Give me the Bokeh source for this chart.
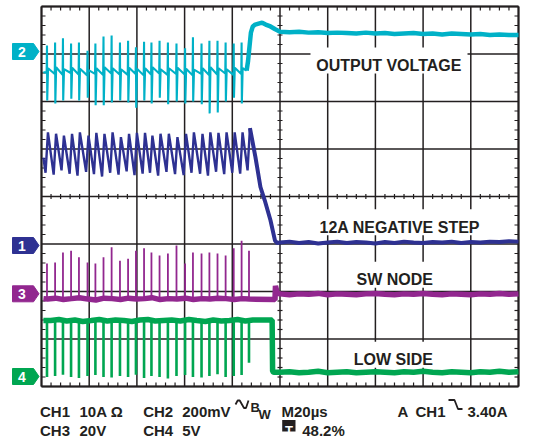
from bokeh.plotting import figure
from bokeh.models import Range1d
from bokeh.embed import file_html
from bokeh.resources import INLINE
from bokeh.core.properties import value

# ---------------- data (time in µs across the 10-div screen, 20 µs/div; amplitude in screen divisions) -------------
sw_t = [2.3, 5.7, 9.0, 12.4, 15.7, 19.3, 22.6, 26.0, 29.4, 32.9, 36.3, 39.6, 43.0,
        46.1, 49.5, 53.0, 56.6, 60.2, 63.5, 67.1, 70.4, 73.8, 77.2, 80.6, 83.9, 87.0]

# CH2 output voltage (cyan): spikes at each switching edge, ripple between them
ch2_top = [7.18, 7.24, 7.33, 7.22, 7.24, 7.07, 7.22, 7.37, 7.39, 7.24, 7.28, 7.14, 7.26,
           7.24, 7.28, 7.24, 7.22, 7.12, 7.35, 7.22, 7.28, 7.28, 7.24, 7.22, 7.24]
ch2_bot = [6.02, 5.96, 6.02, 6.06, 6.02, 6.08, 5.92, 5.92, 5.98, 6.02, 5.98, 5.87, 6.02,
           5.96, 6.08, 5.94, 6.00, 5.96, 6.00, 5.94, 5.75, 5.77, 6.00, 6.08, 5.96]
ch2_hi = [6.70, 6.72, 6.68, 6.71, 6.69, 6.66, 6.70, 6.72, 6.70, 6.68, 6.71, 6.69, 6.70,
          6.72, 6.68, 6.70, 6.71, 6.69, 6.67, 6.70, 6.72, 6.70, 6.68, 6.71, 6.70]
ch2_lo = [6.58, 6.56, 6.60, 6.57, 6.55, 6.58, 6.56, 6.59, 6.57, 6.56, 6.58, 6.55, 6.57,
          6.59, 6.56, 6.58, 6.57, 6.55, 6.58, 6.56, 6.57, 6.59, 6.56, 6.58, 6.60]
ch2_step_t = [86.0, 86.6, 87.2, 87.8, 88.6, 89.6, 91.0, 92.5, 94.0, 96.0, 98.0]
ch2_step_v = [6.65, 6.85, 7.15, 7.45, 7.58, 7.62, 7.64, 7.66, 7.62, 7.58, 7.52]

# CH1 inductor current (navy): sawtooth peaks / troughs, then the negative step
ch1_hi = [5.35, 5.32, 5.28, 5.32, 5.35, 5.28, 5.34, 5.32, 5.35, 5.25, 5.32, 5.34, 5.34,
          5.28, 5.32, 5.32, 5.25, 5.32, 5.35, 5.32, 5.35, 5.34, 5.35, 5.35, 5.35, 5.44]
ch1_lo = [4.50, 4.46, 4.55, 4.48, 4.44, 4.52, 4.47, 4.42, 4.50, 4.46, 4.53, 4.45, 4.48,
          4.50, 4.44, 4.52, 4.47, 4.45, 4.50, 4.48, 4.44, 4.52, 4.47, 4.50, 4.48, 4.55]
ch1_fall_t = [89.7, 91.8, 93.6, 96.0, 97.9, 98.8]
ch1_fall_v = [4.83, 4.20, 3.92, 3.50, 3.07, 3.02]

# CH3 switch node (purple)
ch3_base = [1.84, 1.86, 1.83, 1.85, 1.87, 1.84, 1.82, 1.86, 1.85, 1.83, 1.86, 1.84, 1.85,
            1.87, 1.83, 1.85, 1.84, 1.86, 1.83, 1.85, 1.84, 1.86, 1.85, 1.83, 1.85, 1.84]
ch3_top = [2.59, 2.61, 2.82, 2.86, 2.72, 2.61, 2.59, 2.72, 2.93, 2.65, 2.69, 2.86, 2.91,
           2.82, 2.76, 2.80, 2.97, 2.59, 2.82, 2.80, 2.82, 2.80, 2.76, 2.91, 3.07, 2.86]
ch3_step_t = [97.9, 98.1, 98.8]
ch3_step_v = [1.83, 2.12, 1.97]

# CH4 low-side gate (green)
ch4_high = [1.39, 1.41, 1.38, 1.40, 1.37, 1.39, 1.41, 1.38, 1.40, 1.39, 1.37, 1.40, 1.41,
            1.38, 1.39, 1.40, 1.38, 1.41, 1.39, 1.37, 1.40, 1.38, 1.39, 1.41, 1.38, 1.40]
ch4_bot = [0.20, 0.22, 0.25, 0.20, 0.18, 0.22, 0.24, 0.20, 0.19, 0.22, 0.20, 0.25, 0.18,
           0.22, 0.20, 0.17, 0.22, 0.24, 0.20, 0.19, 0.22, 0.26, 0.20, 0.22, 0.24, 0.50]
ch4_step_t = [96.7, 96.9, 97.4]
ch4_step_v = [1.40, 0.32, 0.30]

# settled traces after the step
flat_t = list(range(100, 201, 4))
ch1_flat = [3.03, 3.05, 3.02, 3.04, 3.01, 3.03, 3.05, 3.02, 3.04, 3.03, 3.01, 3.04, 3.02,
            3.05, 3.03, 3.02, 3.04, 3.03, 3.05, 3.02, 3.04, 3.03, 3.05, 3.04, 3.06, 3.05]
ch2_flat = [7.47, 7.46, 7.47, 7.45, 7.46, 7.44, 7.45, 7.44, 7.43, 7.45, 7.43, 7.44, 7.42,
            7.43, 7.44, 7.42, 7.43, 7.41, 7.43, 7.42, 7.41, 7.42, 7.40, 7.41, 7.40, 7.40]
ch3_flat = [1.95, 1.93, 1.95, 1.94, 1.96, 1.93, 1.95, 1.94, 1.93, 1.95, 1.96, 1.94, 1.93,
            1.95, 1.94, 1.96, 1.94, 1.93, 1.95, 1.94, 1.93, 1.95, 1.94, 1.96, 1.94, 1.95]
ch4_flat = [0.30, 0.31, 0.29, 0.30, 0.32, 0.29, 0.30, 0.31, 0.29, 0.30, 0.31, 0.30, 0.29,
            0.31, 0.30, 0.32, 0.30, 0.29, 0.31, 0.30, 0.29, 0.31, 0.30, 0.32, 0.30, 0.31]

trace_labels = ["OUTPUT VOLTAGE", "12A NEGATIVE STEP", "SW NODE", "LOW SIDE"]
readout_row1 = ["CH1", "10A Ω", "CH2", "200mV", "M20µs", "A", "CH1", "3.40A"]
readout_row2 = ["CH3", "20V", "CH4", "5V", "48.2%"]
channel_tags = ["2", "1", "3", "4"]

C_CYAN, C_BLUE, C_PURPLE, C_GREEN = "#00b1c7", "#2e3192", "#92278f", "#00a651"
INK = "#231f20"
FONT = value("Liberation Sans")


# canvas pixel -> data helpers (layout only)
def X(px):
    return (px - 41.0) / 2.385


def Y(py):
    return (386.0 - py) / 47.5


p = figure(width=535, height=439, x_range=Range1d(X(0), X(535)), y_range=Range1d(Y(439), Y(0)),
           output_backend="svg", toolbar_location=None, x_axis_location=None, y_axis_location=None,
           min_border=0, outline_line_color=None, background_fill_color="white",
           border_fill_color="white")
p.grid.visible = False

# ---------------- graticule ----------------
vx = [20 * i for i in range(11)]
p.segment(x0=vx, y0=[0] * 11, x1=vx, y1=[8] * 11, line_color=INK, line_width=1.5)
hy = list(range(9))
p.segment(x0=[0] * 9, y0=hy, x1=[200] * 9, y1=hy, line_color=INK, line_width=1.5)
p.segment(x0=[0, 200, 0, 0], y0=[0, 0, 0, 8], x1=[0, 200, 200, 200], y1=[8, 8, 0, 8],
          line_color=INK, line_width=2)

tx = [4 * i for i in range(51) if i % 5 != 0]
ty = [0.2 * i for i in range(41) if i % 5 != 0]
dx_in = 4 / 2.385
dy_in = 4 / 47.5
sx0, sy0, sx1, sy1 = [], [], [], []
for t in tx:
    sx0 += [t, t, t]
    sx1 += [t, t, t]
    sy0 += [8, 0, 4 - 2.5 / 47.5]
    sy1 += [8 - dy_in, dy_in, 4 + 2.5 / 47.5]
for v in ty:
    sy0 += [v, v, v]
    sy1 += [v, v, v]
    sx0 += [0, 200, 100 - 2.5 / 2.385]
    sx1 += [dx_in, 200 - dx_in, 100 + 2.5 / 2.385]
p.segment(x0=sx0, y0=sy0, x1=sx1, y1=sy1, line_color=INK, line_width=1.2)

# white boxes behind the trace labels
lab_cx = [388.3, 399.3, 394.2, 392.8]
lab_base = [65.0, 226.7, 279.3, 359.3]
box_l = [310, 314, 352, 348]
box_r = [467, 484, 437, 436]
p.quad(left=[X(v) for v in box_l], right=[X(v) for v in box_r],
       top=[Y(b - 18) for b in lab_base], bottom=[Y(b + 8) for b in lab_base],
       fill_color="white", line_color=None)

# ---------------- traces ----------------
# CH4 green
g_x, g_y = [0.8], [1.39]
for i, t in enumerate(sw_t):
    g_x += [t + 1.6]
    g_y += [ch4_high[i]]
g_x += ch4_step_t + flat_t
g_y += ch4_step_v + ch4_flat
p.line(g_x, g_y, line_color=C_GREEN, line_width=5.5)
p.segment(x0=sw_t, y0=ch4_high, x1=sw_t, y1=ch4_bot, line_color=C_GREEN, line_width=2.6)

# CH3 purple
m_x, m_y = [0.8], [1.85]
for i, t in enumerate(sw_t):
    m_x += [t + 0.2]
    m_y += [ch3_base[i]]
m_x += ch3_step_t + flat_t
m_y += ch3_step_v + ch3_flat
p.line(m_x, m_y, line_color=C_PURPLE, line_width=5.5)
p.segment(x0=sw_t, y0=ch3_base, x1=sw_t, y1=ch3_top, line_color=C_PURPLE, line_width=1.8)

# CH1 navy
b_x, b_y = [0.8], [4.82]
for i, t in enumerate(sw_t):
    b_x += [t - 0.6, t + 0.4]
    b_y += [ch1_lo[i], ch1_hi[i]]
b_x += ch1_fall_t + flat_t
b_y += ch1_fall_v + ch1_flat
p.line(b_x[:53], b_y[:53], line_color=C_BLUE, line_width=2.4)
p.line(b_x[52:], b_y[52:], line_color=C_BLUE, line_width=4)

# CH2 cyan
c_x, c_y = [0.8], [6.62]
for i in range(len(ch2_top)):
    t = sw_t[i]
    c_x += [t - 0.15, t, t + 0.1, t + 0.45]
    c_y += [ch2_lo[i - 1] if i > 0 else 6.60, ch2_top[i], ch2_bot[i], ch2_hi[i]]
c_x += ch2_step_t + flat_t
c_y += ch2_step_v + ch2_flat
n_pre = 1 + 4 * len(ch2_top)
p.line(c_x[:n_pre + 1], c_y[:n_pre + 1], line_color=C_CYAN, line_width=2.1)
p.line(c_x[n_pre:], c_y[n_pre:], line_color=C_CYAN, line_width=4.5)

# ---------------- texts ----------------
p.text(x=[X(v) for v in lab_cx], y=[Y(v) for v in lab_base], text=trace_labels,
       text_font=FONT, text_font_style="bold", text_font_size="16px", text_color=INK,
       text_align="center", text_baseline="alphabetic")

# channel tags
tag_cy = [51.0, 245.0, 293.3, 376.0]
tag_col = [C_CYAN, C_BLUE, C_PURPLE, C_GREEN]
for cy, col in zip(tag_cy, tag_col):
    p.patch([X(12), X(33), X(38.5), X(33), X(12)],
            [Y(cy - 8), Y(cy - 8), Y(cy), Y(cy + 8), Y(cy + 8)],
            fill_color=col, line_color=col)
p.text(x=[X(21.5)] * 4, y=[Y(c) for c in tag_cy], text=channel_tags, text_font=FONT,
       text_font_style="bold", text_font_size="14px", text_color="white",
       text_align="center", text_baseline="middle")

# readout
r1_x = [39.5, 79, 142.7, 181.7, 281, 397, 415, 467]
r2_x = [39.5, 79, 142.7, 181.7, 301.7]
p.text(x=[X(v) for v in r1_x], y=[Y(410.5)] * len(r1_x), text=readout_row1, text_font=FONT,
       text_font_style="bold", text_font_size="15px", text_color=INK,
       text_align="left", text_baseline="alphabetic")
p.text(x=[X(v) for v in r2_x], y=[Y(430.0)] * len(r2_x), text=readout_row2, text_font=FONT,
       text_font_style="bold", text_font_size="15px", text_color=INK,
       text_align="left", text_baseline="alphabetic")
# bandwidth-limit symbol (drawn wave) with B / W
p.line([X(235), X(237.2), X(239.2), X(243.5), X(245.5), X(248)],
       [Y(404), Y(400), Y(400), Y(407.5), Y(407.5), Y(400)],
       line_color=INK, line_width=1.8)
p.text(x=[X(250), X(258)], y=[Y(406.5), Y(413.5)], text=["B", "W"], text_font=FONT,
       text_font_style="bold", text_font_size="13px", text_color=INK,
       text_align="left", text_baseline="alphabetic")
# falling-edge trigger symbol
p.line([X(448), X(454), X(457.5), X(462)], [Y(399.5), Y(399.5), Y(408.5), Y(408.5)],
       line_color=INK, line_width=1.8)
# trigger-position box
p.quad(left=[X(281.7)], right=[X(295)], top=[Y(419.5)], bottom=[Y(431)],
       fill_color=INK, line_color=None)
p.text(x=[X(288.4)], y=[Y(429.5)], text=["T"], text_font=FONT, text_font_style="bold",
       text_font_size="13px", text_color="white", text_align="center",
       text_baseline="alphabetic")

open("out.html", "w").write(file_html(p, INLINE))
